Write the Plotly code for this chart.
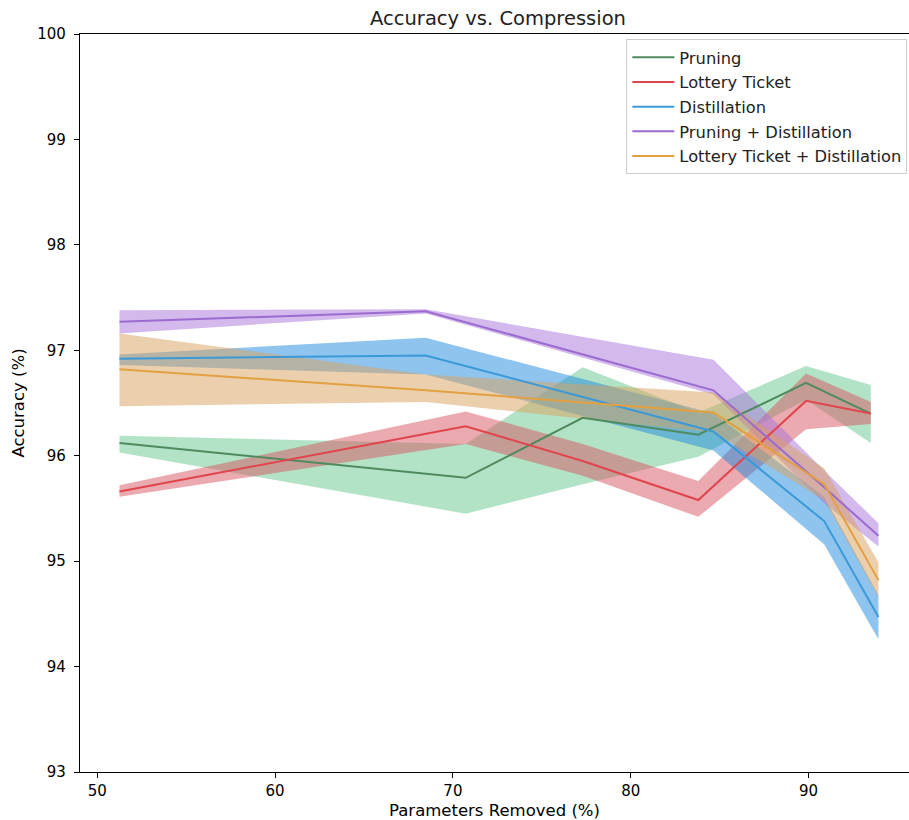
import plotly.graph_objects as go

# ---- data ----
x_prune = [51.25, 70.72, 77.3, 83.8, 89.86, 93.5]
x_dist = [51.25, 68.47, 84.65, 90.88, 93.93]

pruning_mean = [96.12, 95.79, 96.36, 96.20, 96.69, 96.40]
pruning_low = [96.03, 95.45, 95.73, 95.99, 96.53, 96.12]
pruning_high = [96.19, 96.11, 96.84, 96.41, 96.85, 96.67]

lottery_mean = [95.66, 96.28, 95.95, 95.58, 96.52, 96.40]
lottery_low = [95.61, 96.11, 95.81, 95.42, 96.25, 96.30]
lottery_high = [95.72, 96.42, 96.11, 95.76, 96.78, 96.51]

distill_mean = [96.92, 96.95, 96.23, 95.38, 94.47]
distill_low = [96.86, 96.77, 96.05, 95.16, 94.26]
distill_high = [96.96, 97.12, 96.40, 95.61, 94.68]

prune_distill_mean = [97.27, 97.37, 96.62, 95.70, 95.24]
prune_distill_low = [97.16, 97.35, 96.58, 95.55, 95.14]
prune_distill_high = [97.38, 97.39, 96.91, 95.86, 95.36]

lottery_distill_mean = [96.82, 96.62, 96.41, 95.73, 94.82]
lottery_distill_low = [96.47, 96.51, 96.22, 95.58, 94.66]
lottery_distill_high = [97.16, 96.77, 96.60, 95.88, 94.99]

series = [
    ("Pruning", x_prune, pruning_mean, pruning_low, pruning_high,
     "#4f8a5f", "rgba(103,199,141,0.5)"),
    ("Lottery Ticket", x_prune, lottery_mean, lottery_low, lottery_high,
     "#e0454d", "rgba(215,85,95,0.5)"),
    ("Distillation", x_dist, distill_mean, distill_low, distill_high,
     "#3b99d8", "rgba(29,137,221,0.5)"),
    ("Pruning + Distillation", x_dist, prune_distill_mean, prune_distill_low, prune_distill_high,
     "#9b6bd0", "rgba(167,115,217,0.5)"),
    ("Lottery Ticket + Distillation", x_dist, lottery_distill_mean, lottery_distill_low,
     lottery_distill_high, "#e3a040", "rgba(217,161,93,0.5)"),
]

fig = go.Figure()

for name, xs, m, lo, hi, lc, fc in series:
    fig.add_trace(go.Scatter(
        x=list(xs) + list(xs)[::-1],
        y=list(hi) + list(lo)[::-1],
        fill="toself", fillcolor=fc, mode="lines",
        line=dict(width=0, color=fc), hoverinfo="skip", showlegend=False,
    ))

for i, (name, xs, m, lo, hi, lc, fc) in enumerate(series):
    fig.add_trace(go.Scatter(
        x=xs, y=m, mode="lines", name=name, legendgroup=f"g{i}",
        line=dict(color=lc, width=2),
    ))

font_family = "DejaVu Sans"

fig.update_layout(
    width=909, height=820,
    paper_bgcolor="white", plot_bgcolor="white",
    margin=dict(l=80, r=0, t=34, b=48, autoexpand=False),
    font=dict(family=font_family, size=15, color="black"),
    title=dict(text="Accuracy vs. Compression", x=(498 - 80) / 829, xref="paper",
               xanchor="center", y=1 - 18 / 820, yref="container", yanchor="middle",
               font=dict(size=19.5, color="#222")),
    xaxis=dict(
        range=[49.03, 95.65], tickmode="array", tickvals=[50, 60, 70, 80, 90],
        ticks="outside", ticklen=5, tickwidth=1, tickcolor="black",
        showline=True, linecolor="black", linewidth=1.2, mirror=True,
        showgrid=False, zeroline=False,
        title=dict(text="Parameters Removed (%)", standoff=5, font=dict(size=16.5)),
        tickfont=dict(size=15),
    ),
    yaxis=dict(
        range=[93, 100], tickmode="array", tickvals=[93, 94, 95, 96, 97, 98, 99, 100],
        ticks="outside", ticklen=5, tickwidth=1, tickcolor="black",
        showline=True, linecolor="black", linewidth=1.2, mirror=False,
        showgrid=False, zeroline=False, ticklabelstandoff=5,
        title=dict(text="Accuracy (%)", standoff=8, font=dict(size=16.5)),
        tickfont=dict(size=15),
    ),
    legend=dict(
        x=0.998, y=0.993, xanchor="right", yanchor="top",
        bgcolor="rgba(255,255,255,0.85)", bordercolor="#cccccc", borderwidth=1,
        font=dict(size=16.3, color="#222"), itemwidth=42,
        tracegroupgap=0.5,
    ),
)

fig.write_html("out.html", config={"displayModeBar": False})

# remove the default page margin so the figure starts at the window corner
with open("out.html", "r", encoding="utf-8") as f:
    html = f.read()
html = html.replace("<head>", "<head><style>html,body{margin:0;padding:0;overflow:hidden;}</style>", 1)
with open("out.html", "w", encoding="utf-8") as f:
    f.write(html)
